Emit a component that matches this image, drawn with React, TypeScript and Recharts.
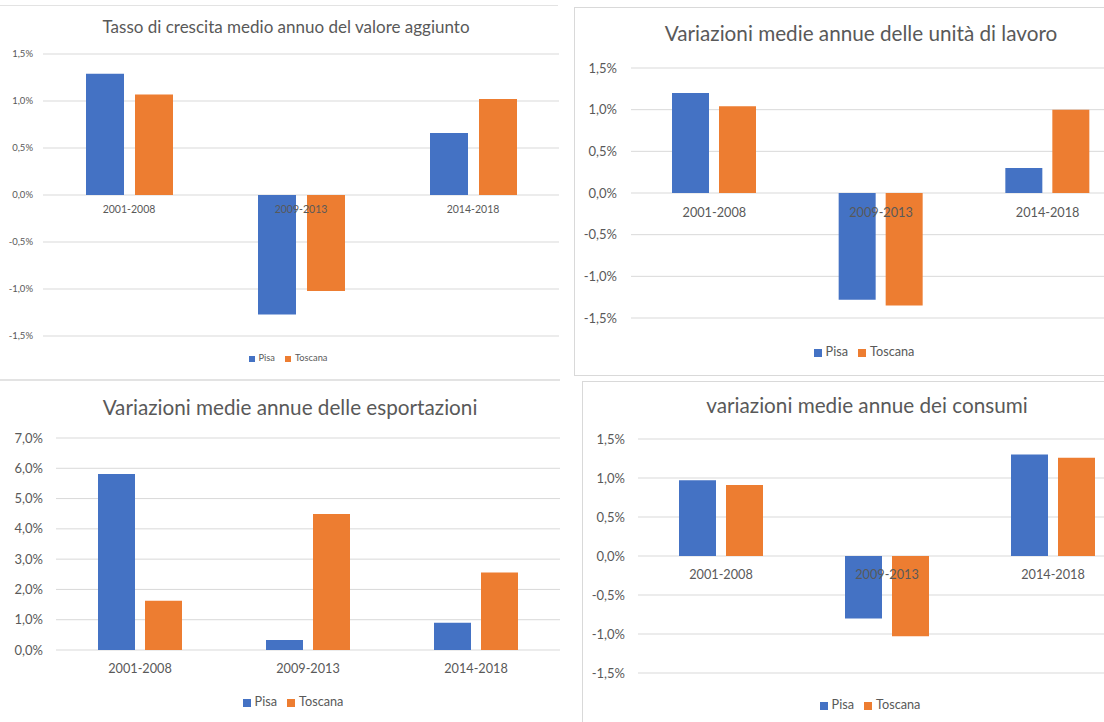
import { BarChart, Bar, XAxis, YAxis, CartesianGrid, Legend, ReferenceDot } from 'recharts';

const periods = ['2001-2008', '2009-2013', '2014-2018'];

const valoreAggiuntoPisa = [1.29, -1.27, 0.66];
const valoreAggiuntoToscana = [1.07, -1.02, 1.02];
const lavoroPisa = [1.2, -1.28, 0.3];
const lavoroToscana = [1.04, -1.35, 1.0];
const esportazioniPisa = [5.81, 0.33, 0.9];
const esportazioniToscana = [1.63, 4.49, 2.56];
const consumiPisa = [0.97, -0.8, 1.3];
const consumiToscana = [0.91, -1.03, 1.26];

const ticksVariazioni = [-1.5, -1, -0.5, 0, 0.5, 1, 1.5];
const ticksEsportazioni = [0, 1, 2, 3, 4, 5, 6, 7];

const BLUE = '#4472C4';
const ORANGE = '#ED7D31';
const TEXT = '#595959';
const GRID = '#d9d9d9';
const FONT = 'Lato, "Open Sans", sans-serif';

const pct = (v: number) => v.toFixed(1).replace('.', ',') + '%';

interface PanelProps {
  title: string;
  pisa: number[];
  toscana: number[];
  ticks: number[];
  left: number;
  top: number;
  width: number;
  height: number;
  plotTop: number;
  plotBottom: number;
  axisWidth: number;
  tickGap: number;
  tickFont: number;
  catFont: number;
  catOffset: number;
  titleY: number;
  titleX: number;
  titleFont: number;
  legendY: number;
  legendX: number;
  legendFont: number;
  barSize: number;
  barGap: number;
}

function Panel(p: PanelProps) {
  const data = periods.map((period, i) => ({ period, Pisa: p.pisa[i], Toscana: p.toscana[i] }));
  const iconSize = Math.round(p.legendFont * 0.65);
  return (
    <div style={{ position: 'absolute', left: p.left, top: p.top, width: p.width, height: p.height, fontFamily: FONT }}>
      <div
        style={{
          position: 'absolute',
          left: p.titleX - 300,
          width: 600,
          top: p.titleY - p.titleFont * 0.6,
          fontSize: p.titleFont,
          lineHeight: `${p.titleFont * 1.2}px`,
          textAlign: 'center',
          color: TEXT,
        }}
      >
        {p.title}
      </div>
      <BarChart
        width={p.width}
        height={p.height}
        data={data}
        margin={{ top: p.plotTop, right: 0, bottom: p.height - p.plotBottom, left: 0 }}
        barSize={p.barSize}
        barGap={p.barGap}
      >
        <CartesianGrid vertical={false} stroke={GRID} />
        <XAxis dataKey="period" hide />
        <YAxis
          domain={[p.ticks[0], p.ticks[p.ticks.length - 1]]}
          ticks={p.ticks}
          width={p.axisWidth}
          axisLine={false}
          tickLine={false}
          tickSize={0}
          tickMargin={p.tickGap}
          tickFormatter={pct}
          tick={{ fill: TEXT, fontSize: p.tickFont, fontFamily: FONT }}
        />
        <Bar dataKey="Pisa" fill={BLUE} isAnimationActive={false} />
        <Bar dataKey="Toscana" fill={ORANGE} isAnimationActive={false} />
        {periods.map((period) => (
          <ReferenceDot
            key={period}
            x={period}
            y={0}
            r={0}
            fill="none"
            stroke="none"
            ifOverflow="visible"
            label={{ value: period, position: 'bottom', offset: p.catOffset, fill: TEXT, fontSize: p.catFont, fontFamily: FONT }}
          />
        ))}
        <Legend
          verticalAlign="middle"
          iconType="square"
          iconSize={iconSize}
          formatter={(value: string) => <span style={{ color: TEXT }}>{value}</span>}
          wrapperStyle={{
            top: p.legendY - p.legendFont * 0.6,
            left: p.legendX - 145,
            width: 300,
            fontSize: p.legendFont,
            lineHeight: `${p.legendFont * 1.2}px`,
            fontFamily: FONT,
          }}
        />
      </BarChart>
    </div>
  );
}

export default function App() {
  return (
    <div style={{ position: 'absolute', left: 0, top: 0, width: 1104, height: 722, overflow: 'hidden', background: '#fff' }}>
      <div style={{ position: 'absolute', left: 0, top: 5, width: 558, height: 1, background: '#e3e3e3' }} />
      <div style={{ position: 'absolute', left: 0, top: 379, width: 560, height: 2, background: '#e3e3e3' }} />
      <div style={{ position: 'absolute', left: 574, top: 7, width: 600, height: 369, border: '1px solid #d9d9d9', boxSizing: 'border-box' }} />
      <div style={{ position: 'absolute', left: 582, top: 381, width: 600, height: 400, border: '1px solid #d9d9d9', boxSizing: 'border-box' }} />

      <Panel
        title="Tasso di crescita medio annuo del valore aggiunto"
        pisa={valoreAggiuntoPisa}
        toscana={valoreAggiuntoToscana}
        ticks={ticksVariazioni}
        left={0}
        top={0}
        width={559}
        height={380}
        plotTop={54}
        plotBottom={336}
        axisWidth={43}
        tickGap={10}
        tickFont={9.5}
        catFont={10.5}
        catOffset={10.5}
        titleY={27}
        titleX={286}
        titleFont={17}
        legendY={358}
        legendX={288}
        legendFont={9.3}
        barSize={38}
        barGap={11}
      />
      <Panel
        title="Variazioni medie annue delle unità di lavoro"
        pisa={lavoroPisa}
        toscana={lavoroToscana}
        ticks={ticksVariazioni}
        left={574}
        top={0}
        width={557}
        height={380}
        plotTop={68}
        plotBottom={318}
        axisWidth={57}
        tickGap={14}
        tickFont={13}
        catFont={12.7}
        catOffset={14.5}
        titleY={33}
        titleX={287}
        titleFont={20.7}
        legendY={352}
        legendX={290}
        legendFont={12.7}
        barSize={37}
        barGap={10}
      />
      <Panel
        title="Variazioni medie annue delle esportazioni"
        pisa={esportazioniPisa}
        toscana={esportazioniToscana}
        ticks={ticksEsportazioni}
        left={0}
        top={380}
        width={560}
        height={342}
        plotTop={58}
        plotBottom={270}
        axisWidth={56}
        tickGap={13}
        tickFont={13}
        catFont={12.7}
        catOffset={13.5}
        titleY={27}
        titleX={290}
        titleFont={20.7}
        legendY={322}
        legendX={293}
        legendFont={12.7}
        barSize={37}
        barGap={10}
      />
      <Panel
        title="variazioni medie annue dei consumi"
        pisa={consumiPisa}
        toscana={consumiToscana}
        ticks={ticksVariazioni}
        left={578}
        top={380}
        width={558}
        height={342}
        plotTop={59}
        plotBottom={293}
        axisWidth={60}
        tickGap={13}
        tickFont={13}
        catFont={12.7}
        catOffset={13.5}
        titleY={25}
        titleX={289}
        titleFont={20.7}
        legendY={325}
        legendX={292}
        legendFont={12.7}
        barSize={37}
        barGap={10}
      />
    </div>
  );
}
